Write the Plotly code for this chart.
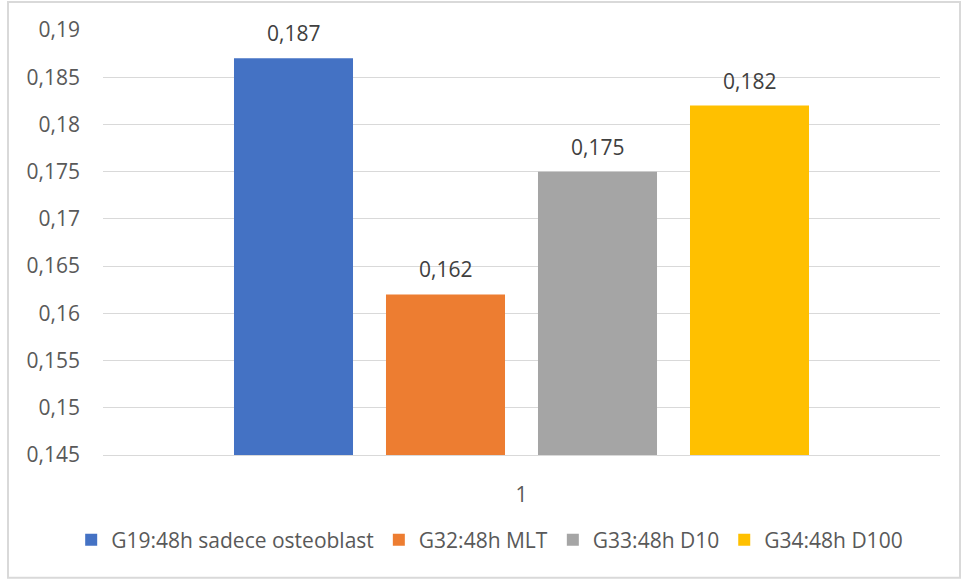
import plotly.graph_objects as go

# Absorbance values per group (single sample set "1")
groups = ["G19:48h sadece osteoblast", "G32:48h MLT", "G33:48h D10", "G34:48h D100"]
values = [0.187, 0.162, 0.175, 0.182]
colors = ["#4472C4", "#ED7D31", "#A5A5A5", "#FFC000"]
category = ["1"]

y_ticks = [0.145, 0.15, 0.155, 0.16, 0.165, 0.17, 0.175, 0.18, 0.185, 0.19]
y_tick_labels = ["0,145", "0,15", "0,155", "0,16", "0,165", "0,17", "0,175", "0,18", "0,185", "0,19"]

FONT = "Open Sans"
FS = 21
BARGAP = 0.2736
BARGROUPGAP = 0.217

fig = go.Figure()
for name, val, col in zip(groups, values, colors):
    fig.add_trace(go.Bar(
        x=category, y=[val], name=name,
        marker=dict(color=col, line=dict(width=0)),
        hoverinfo="skip",
    ))

# value labels above each bar, centred on the bar slots of the group
n = len(groups)
group_w = 1 - BARGAP
slot = group_w / n
for i, val in enumerate(values):
    cx = -group_w / 2 + slot * (i + 0.5)
    fig.add_annotation(
        x=cx, y=val, xref="x", yref="y",
        text=f"{val:.3f}".replace(".", ","),
        showarrow=False, yanchor="bottom", yshift=9,
        font=dict(family=FONT, size=FS, color="#404040"),
    )

# chart-area frame
fig.add_shape(
    type="rect", xref="paper", yref="paper",
    x0=-0.1135, x1=1.0239, y0=-0.289, y1=1.0659,
    line=dict(color="#D9D9D9", width=2), fillcolor="rgba(0,0,0,0)", layer="below",
)

fig.update_layout(
    width=964, height=581,
    margin=dict(l=103, r=24, t=30, b=126),
    paper_bgcolor="white", plot_bgcolor="white",
    barmode="group", bargap=BARGAP, bargroupgap=BARGROUPGAP,
    separators=",.",
    font=dict(family=FONT, size=FS, color="#595959"),
    showlegend=True,
    legend=dict(
        orientation="h", x=0.462, xanchor="center", y=-0.2, yanchor="middle",
        font=dict(family=FONT, size=FS, color="#595959"),
        itemwidth=30, traceorder="normal",
    ),
    xaxis=dict(
        type="category", showgrid=False, showline=True, linecolor="#D9D9D9", linewidth=1,
        ticks="", ticklabelstandoff=21, tickfont=dict(size=FS, color="#595959"),
        zeroline=False,
    ),
    yaxis=dict(
        range=[0.145, 0.19], tickvals=y_ticks, ticktext=y_tick_labels,
        showgrid=True, gridcolor="#D9D9D9", gridwidth=1, zeroline=False,
        showline=False, ticks="", ticklabelstandoff=22,
        tickfont=dict(size=FS, color="#595959"),
    ),
)

fig.write_html("out.html")
